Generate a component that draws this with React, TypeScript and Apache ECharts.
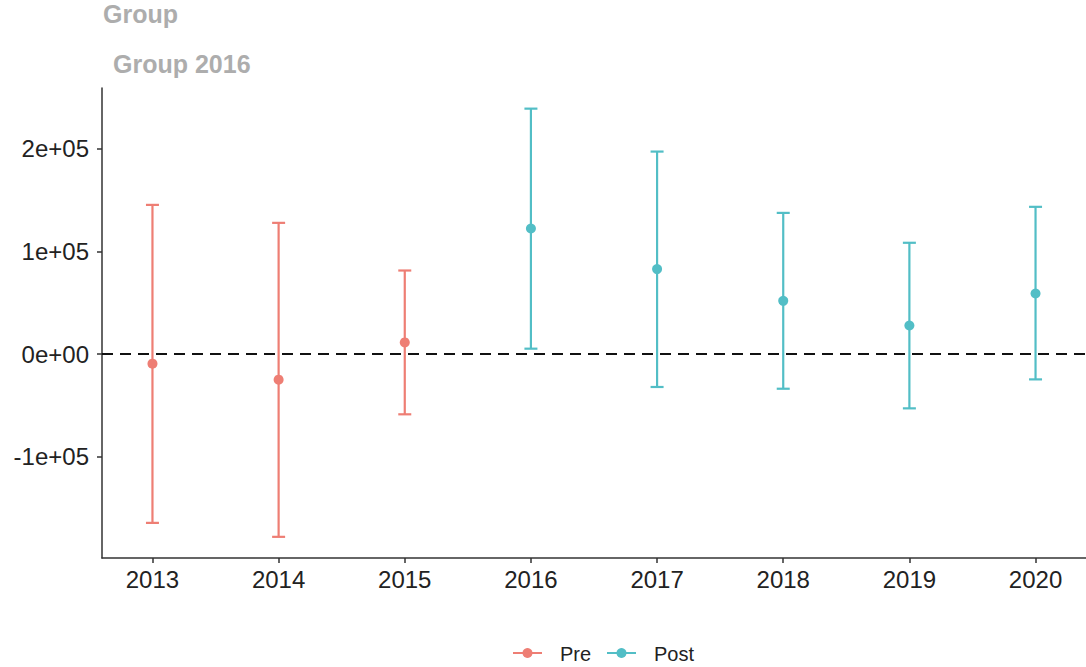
import React, { useEffect, useRef } from "react";
import * as echarts from "echarts";

const years = [2013, 2014, 2015, 2016, 2017, 2018, 2019, 2020];
const periods = ["Pre", "Pre", "Pre", "Post", "Post", "Post", "Post", "Post"];
const estimates = [-9200, -24800, 11500, 122400, 82900, 52000, 28000, 59100];
const lowerCI = [-164200, -177800, -58500, 5400, -31900, -33600, -52700, -24500];
const upperCI = [145400, 127900, 81500, 239100, 197300, 137600, 108500, 143500];
const yTickValues = [-100000, 0, 100000, 200000];
const yTickLabels = ["-1e+05", "0e+00", "1e+05", "2e+05"];
const legendNames = ["Pre", "Post"];
const titleTexts = ["Group", "Group 2016"];

const COLORS: Record<string, string> = { Pre: "#EE7E74", Post: "#52BEC6" };
const FONT = "'Liberation Sans', Arial, Helvetica, sans-serif";

export default function App() {
  const ref = useRef<HTMLDivElement>(null);
  useEffect(() => {
    document.body.style.margin = "0";
    if (!ref.current) return;
    const chart = echarts.init(ref.current, undefined, { renderer: "svg" });

    const seriesFor = (name: string) => {
      const idx = years.map((_, i) => i).filter((i) => periods[i] === name);
      const barData = idx.map((i) => [years[i], lowerCI[i], upperCI[i]]);
      const ptData = idx.map((i) => [years[i], estimates[i]]);
      return [
        {
          type: "custom",
          name,
          data: barData,
          z: 2,
          renderItem: (params: any, api: any) => {
            const x = api.value(0);
            const lo = api.coord([x, api.value(1)]);
            const hi = api.coord([x, api.value(2)]);
            const hw = 6.5;
            const style = { stroke: COLORS[name], lineWidth: 2.2 };
            return {
              type: "group",
              children: [
                { type: "line", shape: { x1: lo[0], y1: lo[1], x2: hi[0], y2: hi[1] }, style },
                { type: "line", shape: { x1: hi[0] - hw, y1: hi[1], x2: hi[0] + hw, y2: hi[1] }, style },
                { type: "line", shape: { x1: lo[0] - hw, y1: lo[1], x2: lo[0] + hw, y2: lo[1] }, style },
              ],
            };
          },
        },
        {
          type: "scatter",
          name,
          data: ptData,
          symbol: "circle",
          symbolSize: 10,
          z: 3,
          itemStyle: { color: COLORS[name], opacity: 1 },
        },
      ];
    };

    const legendChildren: any[] = [];
    const legendX = [513, 607];
    const legendTextX = [560, 654];
    legendNames.forEach((n, i) => {
      legendChildren.push(
        { type: "line", shape: { x1: legendX[i], y1: 653, x2: legendX[i] + 29, y2: 653 }, style: { stroke: COLORS[n], lineWidth: 2 } },
        { type: "circle", shape: { cx: legendX[i] + 14.5, cy: 653, r: 5 }, style: { fill: COLORS[n] } },
        { type: "text", x: legendTextX[i], y: 654, style: { text: n, fill: "#222", font: `20px ${FONT}`, textVerticalAlign: "middle" } }
      );
    });

    chart.setOption({
      animation: false,
      backgroundColor: "#ffffff",
      textStyle: { fontFamily: FONT },
      title: [
        { text: titleTexts[0], left: 98, top: -4, textStyle: { fontSize: 25, fontWeight: "bold", color: "#ADADAD", fontFamily: FONT } },
        { text: titleTexts[1], left: 108, top: 46, textStyle: { fontSize: 25, fontWeight: "bold", color: "#ADADAD", fontFamily: FONT } },
      ],
      grid: { left: 102, top: 88, width: 985, height: 470, containLabel: false },
      xAxis: {
        type: "value",
        min: 2012.6,
        max: 2020.4,
        splitLine: { show: false },
        axisLine: { show: true, onZero: false, lineStyle: { color: "#333", width: 1.5 } },
        axisTick: { show: true, length: 5, customValues: years, lineStyle: { color: "#333", width: 1.5 } },
        axisLabel: {
          customValues: years,
          formatter: (v: number) => String(Math.round(v)),
          color: "#222",
          fontSize: 24,
          margin: 9,
          fontFamily: FONT,
        },
      },
      yAxis: {
        type: "value",
        min: -198400,
        max: 259200,
        splitLine: { show: false },
        axisLine: { show: true, onZero: false, lineStyle: { color: "#333", width: 1.5 } },
        axisTick: { show: true, length: 5, customValues: yTickValues, lineStyle: { color: "#333", width: 1.5 } },
        axisLabel: {
          customValues: yTickValues,
          formatter: (v: number) => {
            const k = yTickValues.indexOf(Math.round(v));
            return k >= 0 ? yTickLabels[k] : "";
          },
          color: "#222",
          fontSize: 24,
          margin: 13,
          fontFamily: FONT,
        },
      },
      series: [
        {
          type: "line",
          data: [],
          markLine: {
            silent: true,
            symbol: "none",
            label: { show: false },
            lineStyle: { color: "#111", width: 2.2, type: [11, 7] },
            data: [{ yAxis: 0 }],
          },
        },
        ...seriesFor("Pre"),
        ...seriesFor("Post"),
      ],
      graphic: [{ type: "group", children: legendChildren }],
    });
    return () => chart.dispose();
  }, []);
  return <div ref={ref} style={{ width: 1086, height: 667 }} />;
}
